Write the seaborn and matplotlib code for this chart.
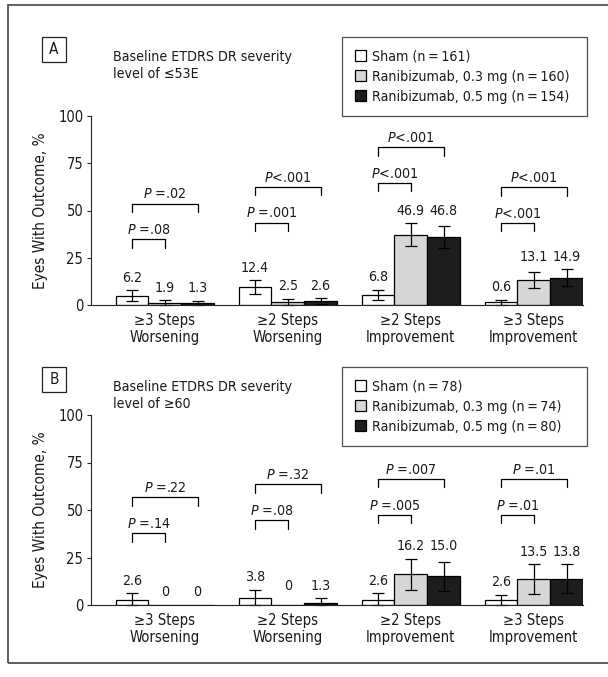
import matplotlib
matplotlib.use('Agg')
import matplotlib.pyplot as plt
from matplotlib.patches import Rectangle
import pandas as pd
import seaborn as sns

# categories
OUTCOMES = ['≥3 Steps\nWorsening', '≥2 Steps\nWorsening',
            '≥2 Steps\nImprovement', '≥3 Steps\nImprovement']

# panel A: baseline level <=53E
A_GROUPS = ['Sham (n\u2009=\u2009161)', 'Ranibizumab, 0.3 mg (n\u2009=\u2009160)',
            'Ranibizumab, 0.5 mg (n\u2009=\u2009154)']
A_SHAM = [4.8, 9.5, 5.5, 1.4]
A_R03 = [1.3, 1.6, 37.2, 13.2]
A_R05 = [0.9, 2.0, 36.0, 14.4]
A_SHAM_LO = [1.9, 6.0, 2.6, 0.0]
A_SHAM_HI = [7.8, 13.2, 8.2, 2.9]
A_R03_LO = [0.1, 0.1, 31.2, 9.0]
A_R03_HI = [2.5, 3.2, 43.2, 17.5]
A_R05_LO = [0.0, 0.3, 29.9, 10.1]
A_R05_HI = [2.0, 3.7, 42.0, 18.8]
A_SHAM_TXT = ['6.2', '12.4', '6.8', '0.6']
A_R03_TXT = ['1.9', '2.5', '46.9', '13.1']
A_R05_TXT = ['1.3', '2.6', '46.8', '14.9']
A_P_NEAR = ['P =.08', 'P =.001', 'P<.001', 'P<.001']
A_P_FAR = ['P =.02', 'P<.001', 'P<.001', 'P<.001']

# panel B: baseline level >=60
B_GROUPS = ['Sham (n\u2009=\u200978)', 'Ranibizumab, 0.3 mg (n\u2009=\u200974)',
            'Ranibizumab, 0.5 mg (n\u2009=\u200980)']
B_SHAM = [2.6, 3.9, 2.5, 2.6]
B_R03 = [0.0, 0.0, 16.1, 13.5]
B_R05 = [0.0, 1.2, 15.1, 13.6]
B_SHAM_LO = [0.0, 0.0, 0.0, 0.0]
B_SHAM_HI = [6.1, 7.9, 6.1, 5.4]
B_R03_LO = [0.0, 0.0, 7.9, 5.6]
B_R03_HI = [0.0, 0.0, 24.4, 21.4]
B_R05_LO = [0.0, 0.0, 7.6, 6.5]
B_R05_HI = [0.0, 3.5, 22.5, 21.4]
B_SHAM_TXT = ['2.6', '3.8', '2.6', '2.6']
B_R03_TXT = ['0', '0', '16.2', '13.5']
B_R05_TXT = ['0', '1.3', '15.0', '13.8']
B_P_NEAR = ['P =.14', 'P =.08', 'P =.005', 'P =.01']
B_P_FAR = ['P =.22', 'P =.32', 'P =.007', 'P =.01']

COLORS = ['white', '#d6d6d6', '#1e1c1d']

sns.set_style('ticks')
plt.rcParams['font.family'] = ['DejaVu Sans']
plt.rcParams['font.stretch'] = 'condensed'
plt.rcParams['mathtext.fontset'] = 'custom'
plt.rcParams['mathtext.it'] = 'DejaVu Sans:italic:stretch=condensed'
plt.rcParams['mathtext.rm'] = 'DejaVu Sans:stretch=condensed'
plt.rcParams['axes.edgecolor'] = '#222222'
plt.rcParams['axes.linewidth'] = 0.8
TXT = '#1a1a1a'
FS = 10.2

W, H = 608, 677
fig = plt.figure(figsize=(W / 100, H / 100), dpi=100)


def fx(px):
    return px / W


def fy(py):
    return 1 - py / H


def pstr(s):
    return '$P$' + s[1:]


def draw_panel(ax, groups, vals, los, his, txts, p_near, p_far, bracket_y,
               letter, subtitle, top):
    rows = []
    for g, v in zip(groups, vals):
        for o, y in zip(OUTCOMES, v):
            rows.append({'outcome': o, 'group': g, 'pct': y})
    df = pd.DataFrame(rows)
    sns.barplot(data=df, x='outcome', y='pct', hue='group', order=OUTCOMES,
                hue_order=groups, palette=COLORS, edgecolor='black',
                linewidth=0.9, errorbar=None, width=0.8, ax=ax)

    bar_conts = list(ax.containers)
    centers = []
    for k, cont in enumerate(bar_conts):
        xs = [b.get_x() + b.get_width() / 2 for b in cont]
        centers.append(xs)
        for i in range(len(xs)):
            h = vals[k][i]
            if his[k][i] > 0:
                ax.errorbar(xs[i], h, yerr=[[h - los[k][i]], [his[k][i] - h]],
                            fmt='none', ecolor='black', elinewidth=0.9,
                            capsize=4.5, capthick=0.9, clip_on=False)

    # value labels
    for i in range(len(OUTCOMES)):
        ax.text(centers[0][i], his[0][i] + 4.5, txts[0][i], ha='center',
                va='baseline', fontsize=FS, color=TXT)
        ytr = max(his[1][i], his[2][i]) + 4.5
        ax.text(centers[1][i], ytr, txts[1][i], ha='center', va='baseline',
                fontsize=FS, color=TXT)
        ax.text(centers[2][i], ytr, txts[2][i], ha='center', va='baseline',
                fontsize=FS, color=TXT)

    # significance brackets
    leg = 4.5
    for i in range(len(OUTCOMES)):
        y1 = bracket_y[i]
        y2 = y1 + 19
        for yb, xe, s in [(y1, centers[1][i], p_near[i]), (y2, centers[2][i], p_far[i])]:
            x0 = centers[0][i]
            ax.plot([x0, x0, xe, xe], [yb - leg, yb, yb, yb - leg], color='black',
                    lw=0.9, clip_on=False)
            ax.text((x0 + xe) / 2, yb + 2.7, pstr(s), ha='center', va='baseline',
                    fontsize=FS, color=TXT)

    ax.set_xlim(-0.6, 3.4)
    ax.set_ylim(0, 100)
    ax.set_yticks([0, 25, 50, 75, 100])
    ax.tick_params(axis='y', length=3, width=0.8, pad=2.5, labelsize=10.5, labelcolor=TXT)
    ax.tick_params(axis='x', length=0, pad=6, labelsize=10.6, labelcolor=TXT)
    for t in ax.get_xticklabels():
        t.set_linespacing(1.1)
    ax.set_xlabel('')
    ax.set_ylabel('Eyes With Outcome, %', fontsize=11, labelpad=7.5, color=TXT)
    sns.despine(ax=ax)

    sns.move_legend(ax, 'upper left', bbox_to_anchor=(fx(342), fy(top), fx(587) - fx(342), 0),
                    bbox_transform=fig.transFigure, mode='expand', title=None,
                    frameon=True, fancybox=False, fontsize=10.2, handlelength=0.8,
                    handleheight=0.8, handletextpad=0.4, labelspacing=0.42,
                    borderpad=0.9, borderaxespad=0, labelcolor=TXT)
    lg = ax.get_legend()
    lg.get_frame().set_edgecolor('#222222')
    lg.get_frame().set_linewidth(0.9)

    # panel letter box and subtitle
    fig.patches.append(Rectangle((fx(42), fy(top + 25)), fx(24), 25 / H, fill=False,
                                 lw=0.9, edgecolor='#222222', transform=fig.transFigure))
    fig.text(fx(54), fy(top + 12.5), letter, ha='center', va='center', fontsize=11,
             color=TXT)
    line1, line2 = subtitle
    fig.text(fx(113), fy(top + 24), line1, va='baseline', fontsize=10.2, color=TXT)
    fig.text(fx(113), fy(top + 41), line2, va='baseline', fontsize=10.2, color=TXT)


ax_a = fig.add_axes([fx(91), fy(305), fx(583) - fx(91), 189 / H])
draw_panel(ax_a, A_GROUPS, [A_SHAM, A_R03, A_R05],
           [A_SHAM_LO, A_R03_LO, A_R05_LO], [A_SHAM_HI, A_R03_HI, A_R05_HI],
           [A_SHAM_TXT, A_R03_TXT, A_R05_TXT], A_P_NEAR, A_P_FAR,
           [34.7, 43.6, 64.6, 43.4], 'A',
           ('Baseline ETDRS DR severity', 'level of ≤53E'), 37)

ax_b = fig.add_axes([fx(91), fy(605), fx(583) - fx(91), 190 / H])
draw_panel(ax_b, B_GROUPS, [B_SHAM, B_R03, B_R05],
           [B_SHAM_LO, B_R03_LO, B_R05_LO], [B_SHAM_HI, B_R03_HI, B_R05_HI],
           [B_SHAM_TXT, B_R03_TXT, B_R05_TXT], B_P_NEAR, B_P_FAR,
           [37.7, 44.7, 47.4, 47.4], 'B',
           ('Baseline ETDRS DR severity', 'level of ≥60'), 367)

# outer frame
fig.patches.append(Rectangle((fx(8), fy(663)), 1.2, (663 - 5) / H, fill=False, lw=1.2,
                             edgecolor='#444444', transform=fig.transFigure))

fig.savefig('out.png', dpi=100)
